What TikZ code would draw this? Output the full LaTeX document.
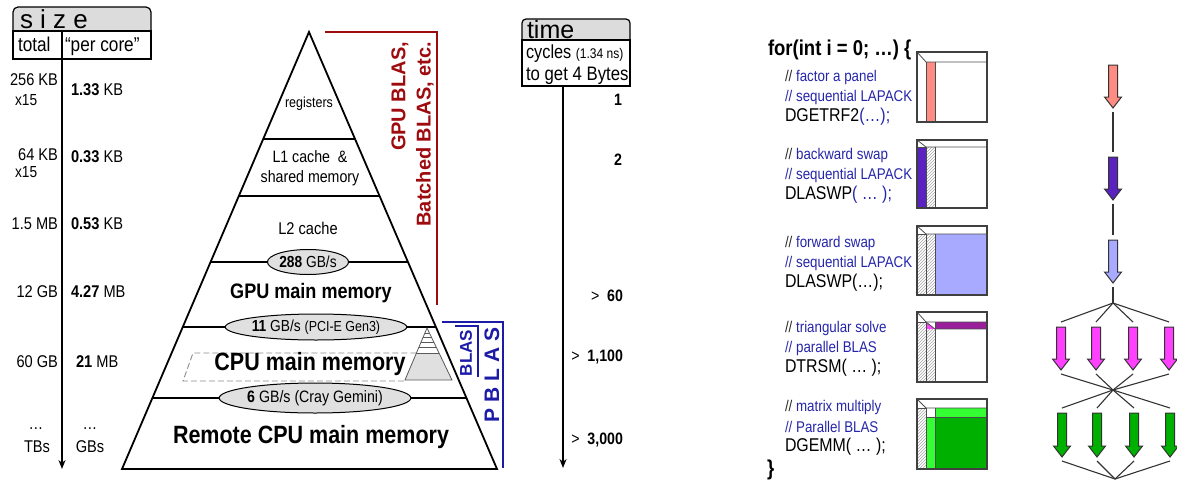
\documentclass[tikz,border=0pt]{standalone}
\usepackage{fontspec}
\setmainfont{Liberation Sans}[FakeStretch=0.86]
\newfontfamily\wide{Liberation Sans}
\usetikzlibrary{shapes.geometric,patterns,arrows.meta}
\newcommand\fsz[1]{\fontsize{#1}{#1}\selectfont}
\definecolor{hdrgray}{HTML}{DCDCDC}
\definecolor{ellgray}{HTML}{E0E0E0}
\definecolor{dred}{HTML}{9E0B0F}
\definecolor{dblue}{HTML}{1B1BA8}
\definecolor{cblue}{HTML}{2525AA}
\definecolor{salmon}{HTML}{FF8C82}
\definecolor{purp}{HTML}{5A22BE}
\definecolor{lblue}{HTML}{A8AAFF}
\definecolor{dmag}{HTML}{9A1F9A}
\definecolor{mag}{HTML}{FF40FF}
\definecolor{bgreen}{HTML}{33FF33}
\definecolor{dgreen}{HTML}{00B000}
\newcommand\barrow[5]{%
  \fill[#5, draw=black!80, line width=1pt, line join=miter]
    (#2-4.5,#3) -- (#2+4.5,#3) -- (#2+4.5,#4-11) -- (#2+8.5,#4-11) -- (#2,#4)
    -- (#2-8.5,#4-11) -- (#2-4.5,#4-11) -- cycle;
  \coordinate (#1t) at (#2,#3-5);
  \coordinate (#1b) at (#2,#4+4);
}
\begin{document}
\begin{tikzpicture}[x=1pt,y=-1pt,
  every node/.style={inner sep=0pt, outer sep=0pt},
  vaxis/.style={line width=1.6pt, -{Stealth[length=9pt,width=7pt]}},
  lbl/.style={font=\fsz{17}},
  pyr/.style={line width=1.8pt},
  lvl/.style={line width=1.5pt},
  ell/.style={ellipse, draw, line width=1pt, fill=ellgray},
  cmt/.style={font=\fsz{15.5}, text=cblue, anchor=west},
  fnc/.style={font=\fsz{18.5}, anchor=west},
  matin/.style={draw=black!70, line width=0.8pt},
  matout/.style={draw=black!75, line width=1.2pt},
  hatch/.style={pattern=north east lines, pattern color=black!35},
  link/.style={draw=black!80, line width=1.1pt},
  redl/.style={draw=dred, line width=1.6pt},
  bluel/.style={draw=dblue, line width=1.4pt},
  tval/.style={font=\fsz{16.5}, anchor=east}]
\useasboundingbox (0,0) rectangle (1177,482);

% ---------- size box ----------
\draw[line width=1.2pt, fill=hdrgray, rounded corners=5pt] (13,31) -- (13,7) -- (151,7) -- (151,31);
\draw[line width=1.2pt] (13,31) rectangle (151,59);
\draw[line width=1.2pt] (62,31) -- (62,59);
\node[anchor=base west, font=\wide\fsz{26}] (sizehdr) at (20,28) {s i z e};
\node[anchor=base west, font=\fsz{20}] (total) at (18,51) {total};
\node[anchor=base west, font=\fsz{20}] (percore) at (65,51) {“per core”};
\coordinate (stop) at (62,59);
\coordinate (sbot) at (62,469);
\draw[vaxis] (stop) -- (sbot);

\node[lbl, anchor=east] (t1) at (58,80) {256 KB};
\node[lbl, anchor=west, font=\fsz{16}] (x1) at (15,100) {x15};
\node[lbl, anchor=west] (p1) at (71,90) {\textbf{1.33} KB};
\node[lbl, anchor=east] (t2) at (58,155) {64 KB};
\node[lbl, anchor=west, font=\fsz{16}] (x2) at (15,172) {x15};
\node[lbl, anchor=west] (p2) at (71,157) {\textbf{0.33} KB};
\node[lbl, anchor=east] (t3) at (58,224) {1.5 MB};
\node[lbl, anchor=west] (p3) at (71,224) {\textbf{0.53} KB};
\node[lbl, anchor=east] (t4) at (58,292) {12 GB};
\node[lbl, anchor=west] (p4) at (71,292) {\textbf{4.27} MB};
\node[lbl, anchor=east] (t5) at (58,362) {60 GB};
\node[lbl, anchor=west] (p5) at (76,362) {\textbf{21} MB};
\node[lbl] (d1) at (36,429) {…};
\node[lbl] (t6) at (37,447) {TBs};
\node[lbl] (d2) at (90,429) {…};
\node[lbl] (p6) at (90,447) {GBs};

% ---------- pyramid ----------
\coordinate (apex) at (309,32);
\coordinate (bl) at (122,469);
\coordinate (br) at (497,469);
\draw[lvl] (263.2,139) -- (355,139);
\draw[lvl] (238.8,196) -- (379.5,196);
\draw[lvl] (210.6,262) -- (407.9,262);
\draw[lvl] (182.7,327) -- (435.9,327);
\draw[lvl] (152.4,398) -- (466.4,398);
\draw[pyr] (apex) -- (bl) -- (br) -- cycle;

% mini pyramid and projection
\fill[black!12] (416.4,353) -- (439,353) -- (452,380) -- (405,380) -- cycle;
\draw[black!45, line width=0.9pt, dash pattern=on 6pt off 3pt] (416.4,353) -- (193,353) -- (183,381) -- (405,381);
\draw[black!65, line width=0.8pt] (427,328) -- (405,380) -- (452,380) -- cycle;
\draw[black!65, line width=0.8pt] (424.9,333) -- (429.4,333);
\draw[black!65, line width=0.8pt] (423.2,337) -- (431.3,337);
\draw[black!65, line width=0.8pt] (421.1,342) -- (433.7,342);
\draw[black!65, line width=0.8pt] (419.0,347) -- (436.1,347);
\draw[black!65, line width=0.8pt] (416.4,353) -- (439.0,353);

\node[font=\fsz{14.5}] (reg) at (309,104) {registers};
\node[font=\fsz{16.5}] (l1a) at (310,157) {L1 cache\ \ \&};
\node[font=\fsz{16.5}] (l1b) at (310,178) {shared memory};
\node[font=\fsz{17}] (l2) at (308,228) {L2 cache};
\node[font=\fsz{21}\bfseries] (gpu) at (311,293) {GPU main memory};
\node[font=\fsz{25}\bfseries] (cpu) at (310,364) {CPU main memory};
\node[font=\fsz{25}\bfseries] (rem) at (311,437) {Remote CPU main memory};

\node[ell, minimum width=71pt, minimum height=25pt, font=\fsz{16}] (e1) at (308,262) {\textbf{288} GB/s};
\node[ell, minimum width=168pt, minimum height=26pt, font=\fsz{16}] (e2) at (316,327) {\textbf{11} GB/s {\fsz{14.5}(PCI-E Gen3)}};
\node[ell, minimum width=174pt, minimum height=30pt, font=\fsz{16.5}] (e3) at (315,398) {\textbf{6} GB/s (Cray Gemini)};

% ---------- brackets ----------
\coordinate (r1) at (325,32);
\coordinate (r2) at (437,32);
\coordinate (r3) at (437,305);
\draw[redl] (r1) -- (r2) -- (r3);
\node[rotate=90, anchor=east, font=\wide\fsz{20}\bfseries, text=dred] (gblas) at (400,42) {GPU BLAS,};
\node[rotate=90, anchor=east, font=\wide\fsz{20}\bfseries, text=dred] (bblas) at (425,42) {Batched BLAS, etc.};

\coordinate (b1) at (442,322);
\coordinate (b2) at (503,322);
\coordinate (b3) at (503,468);
\draw[bluel] (b1) -- (b2) -- (b3);
\coordinate (c1) at (455,326);
\coordinate (c2) at (478,326);
\coordinate (c3) at (478,377);
\draw[bluel] (c1) -- (c2) -- (c3);
\node[rotate=90, font=\wide\fsz{17}\bfseries, text=dblue] (blas) at (466,353) {BLAS};
\node[rotate=90, font=\wide\fsz{21}\bfseries, text=dblue] (pblas) at (492,375) {P B L A S};

% ---------- time ----------
\draw[line width=1.2pt, fill=hdrgray, rounded corners=4pt] (522,40) -- (522,19) -- (630,19) -- (630,40);
\draw[line width=1.2pt] (522,40) rectangle (630,86);
\node[anchor=base west, font=\wide\fsz{25}] (timehdr) at (527,38.5) {time};
\node[anchor=base west, font=\fsz{19}] (cyc) at (526,58) {cycles {\fsz{14}(1.34 ns)}};
\node[anchor=base west, font=\fsz{19.5}] (toget) at (526,80) {to get 4 Bytes};
\coordinate (ttop) at (563,86);
\coordinate (tbot) at (563,468);
\draw[vaxis] (ttop) -- (tbot);
\node[tval] (v1) at (622,100) {\textbf{1}};
\node[tval] (v2) at (622,160) {\textbf{2}};
\node[tval] (v3) at (623,296) {>\ \ \textbf{60}};
\node[tval] (v4) at (623,357) {>\ \ \textbf{1,100}};
\node[tval] (v5) at (623,440) {>\ \ \textbf{3,000}};

% ---------- code ----------
\node[anchor=west, font=\fsz{21.5}\bfseries] (for) at (768,50) {for(int i = 0; …) \{};
\node[cmt] (c11) at (785,77) {{\color{black!85}//} factor a panel};
\node[cmt] (c12) at (785,97) {// sequential LAPACK};
\node[fnc] (f1) at (785,117) {DGETRF2{\color{cblue}(…);}};
\node[cmt] (c21) at (785,155) {{\color{black!85}//} backward swap};
\node[cmt] (c22) at (785,175) {// sequential LAPACK};
\node[fnc] (f2) at (785,195) {DLASWP{\color{cblue}( … );}};
\node[cmt] (c31) at (785,243) {{\color{black!85}//} forward swap};
\node[cmt] (c32) at (785,263) {// sequential LAPACK};
\node[fnc] (f3) at (785,283) {DLASWP(…);};
\node[cmt] (c41) at (785,328) {{\color{black!85}//} triangular solve};
\node[cmt] (c42) at (785,348) {// parallel BLAS};
\node[fnc] (f4) at (785,368) {DTRSM( … );};
\node[cmt] (c51) at (785,407) {{\color{black!85}//} matrix multiply};
\node[cmt] (c52) at (785,427) {// Parallel BLAS};
\node[fnc] (f5) at (785,447) {DGEMM( … );};
\node[anchor=west, font=\fsz{21.5}\bfseries] (endb) at (767,470) {\}};

% ---------- matrices ----------
% 1
\fill[salmon] (926,62) rectangle (935,122);
\draw[matin] (917,52) -- (926,62) -- (987,62);
\draw[matin] (926,62) -- (926,122);
\draw[matin] (935,62) -- (935,122);
\draw[matout] (917,52) rectangle (987,122);
% 2
\fill[purp] (917,147) rectangle (926,208);
\fill[hatch] (926,147) rectangle (935,208);
\draw[matin] (917,140) -- (926,147) -- (987,147);
\draw[matin] (917,147) -- (926,147) -- (926,208);
\draw[matin] (935,147) -- (935,208);
\draw[matout] (917,140) rectangle (987,208);
% 3
\fill[hatch] (917,234) rectangle (935,295);
\fill[lblue] (935,234) rectangle (987,295);
\draw[matin] (917,226) -- (926,234) -- (987,234);
\draw[matin] (917,234) -- (926,234) -- (926,295);
\draw[matin] (935,234) -- (935,295);
\draw[matout] (917,226) rectangle (987,295);
% 4
\fill[hatch] (917,322) rectangle (926,382);
\fill[hatch] (926,329) rectangle (935,382);
\fill[mag] (926,322) -- (935,329) -- (926,329) -- cycle;
\fill[dmag] (935,322) rectangle (987,329);
\draw[matin] (917,312) -- (926,322) -- (987,322);
\draw[matin] (926,322) -- (935,329) -- (987,329);
\draw[matin] (917,322) -- (926,322) -- (926,382);
\draw[matin] (935,322) -- (935,382);
\draw[matout] (917,312) rectangle (987,382);
% 5
\fill[hatch] (917,408) rectangle (926,469);
\fill[bgreen] (935,408) rectangle (987,417);
\fill[bgreen] (926,417) rectangle (935,469);
\fill[dgreen] (935,417) rectangle (987,469);
\draw[matin] (917,399) -- (926,408) -- (987,408);
\draw[matin] (917,408) -- (926,408) -- (926,469);
\draw[matin] (935,408) -- (935,469);
\draw[matin] (926,417) -- (987,417);
\draw[matout] (917,399) rectangle (987,469);

% ---------- DAG ----------
\barrow{a1}{1113}{65}{108}{salmon}
\barrow{a2}{1113}{157}{200}{purp}
\barrow{a3}{1113}{240}{283}{lblue}
\barrow{m1}{1061}{327}{370}{mag}
\barrow{m2}{1096}{327}{370}{mag}
\barrow{m3}{1133}{327}{370}{mag}
\barrow{m4}{1169}{327}{370}{mag}
\barrow{g1}{1062}{413}{457}{dgreen}
\barrow{g2}{1097}{413}{457}{dgreen}
\barrow{g3}{1134}{413}{457}{dgreen}
\barrow{g4}{1170}{413}{457}{dgreen}
\coordinate (j1) at (1113,303);
\coordinate (j2) at (1113,390);
\coordinate (j3) at (1115,479);
\draw[link] (a1b) -- (a2t);
\draw[link] (a2b) -- (a3t);
\draw[link] (a3b) -- (j1);
\foreach \k in {1,2,3,4} {
  \draw[link] (j1) -- (m\k t);
  \draw[link] (m\k b) -- (j2);
  \draw[link] (j2) -- (g\k t);
  \draw[link] (g\k b) -- (j3);
}
\end{tikzpicture}
\end{document}
